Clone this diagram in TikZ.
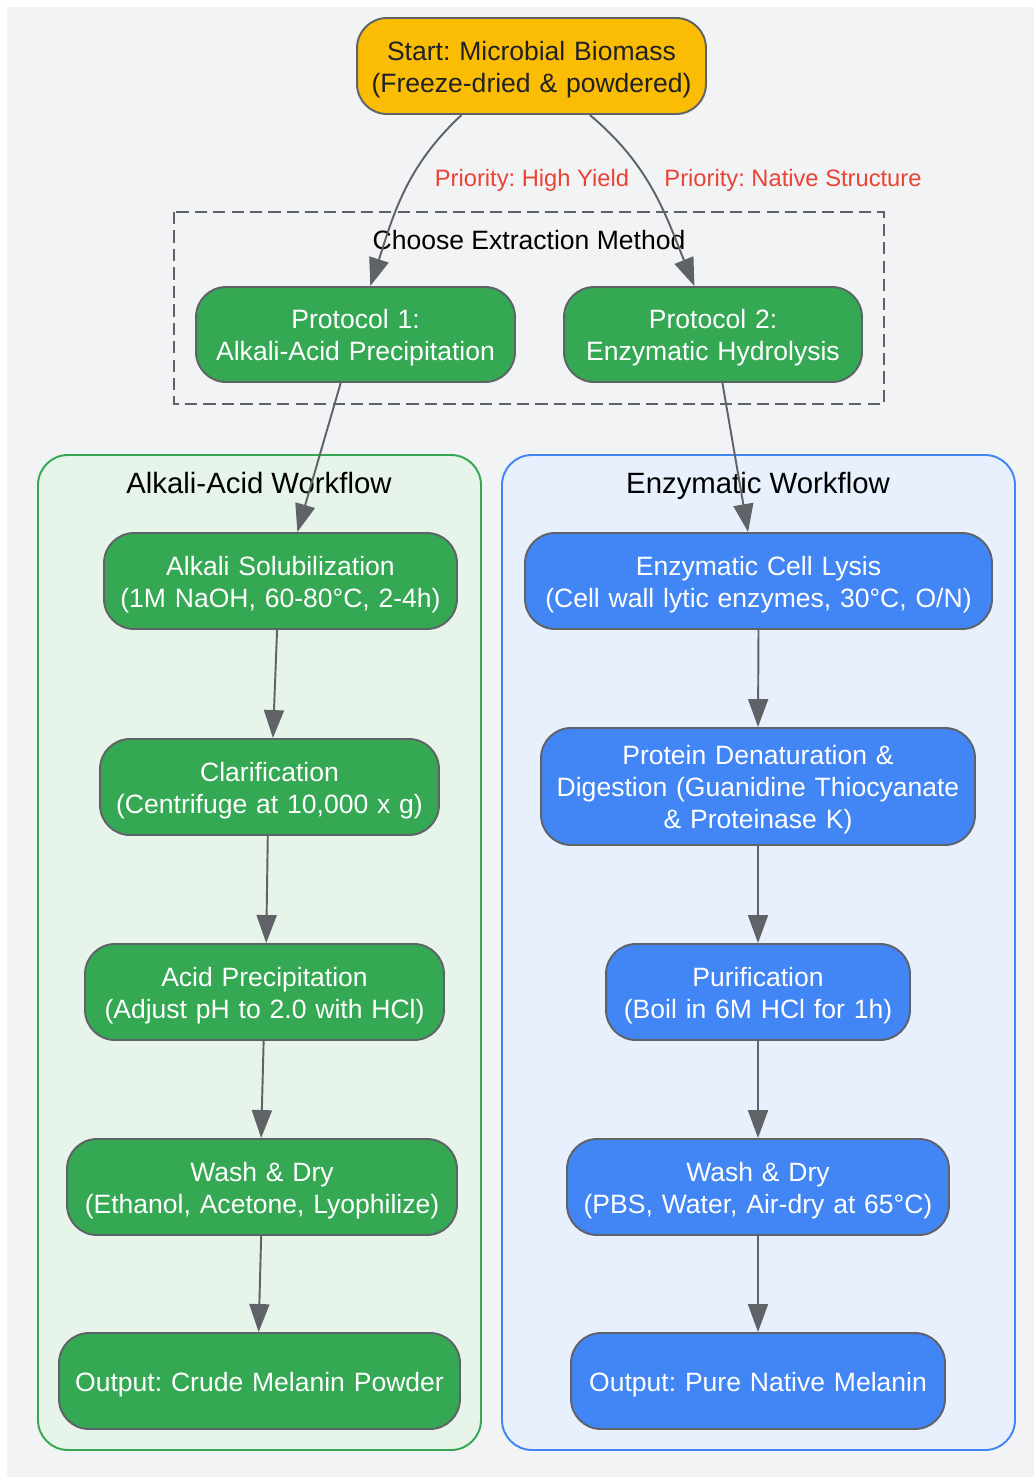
\documentclass[tikz,border=0pt]{standalone}
\usepackage{fontspec}
\setmainfont{Liberation Sans}
\frenchspacing
\usetikzlibrary{arrows.meta, positioning}
\definecolor{pagegray}{HTML}{F1F3F4}
\definecolor{edgegray}{HTML}{5F6368}
\definecolor{startyellow}{HTML}{FBBC04}
\definecolor{alkgreen}{HTML}{34A853}
\definecolor{enzblue}{HTML}{4285F4}
\definecolor{alkpale}{HTML}{E6F4EA}
\definecolor{enzpale}{HTML}{E8F0FE}
\definecolor{priored}{HTML}{EA4335}
\definecolor{inkdark}{HTML}{202124}

\tikzset{
  stepnode/.style={draw=edgegray, line width=1.1pt, rounded corners=0.6cm, minimum height=1.92cm,
    inner xsep=0pt, inner ysep=3pt, align=center, font=\fontsize{15.1}{18.2}\selectfont,
    execute at begin node={\rule{0pt}{15.6pt}}, execute at end node={\rule[-3.8pt]{0pt}{0pt}}},
  alkalibox/.style={stepnode, fill=alkgreen, text=white},
  enzbox/.style={stepnode, fill=enzblue, text=white},
  grouplabel/.style={font=\fontsize{15.1}{18.2}\selectfont, text=black, anchor=base},
  flowlabel/.style={font=\fontsize{16.7}{20}\selectfont, text=black, anchor=base},
  priolabel/.style={font=\fontsize{13.5}{16}\selectfont, text=priored, anchor=base},
  flow/.style={draw=edgegray, line width=1.1pt, -{Triangle[length=0.56cm,width=0.4cm]}}
}

\begin{document}
\begin{tikzpicture}[x=0.02cm, y=-0.02cm]
  \useasboundingbox (0,0) rectangle (1034,1477);
  \fill[pagegray] (7,7) rectangle (1034,1477);

  % Groups
  \draw[draw=alkgreen, fill=alkpale, line width=1.1pt, rounded corners=0.6cm] (38,455) rectangle (481,1450);
  \draw[draw=enzblue, fill=enzpale, line width=1.1pt, rounded corners=0.6cm] (502,455) rectangle (1015,1450);
  \draw[draw=edgegray, line width=1.1pt, dash pattern=on 7pt off 3.5pt] (174,212) rectangle (884,404);

  \node[grouplabel] (choose) at (529,249) {Choose Extraction Method};
  \node[flowlabel] (alklabel) at (259,493) {Alkali-Acid Workflow};
  \node[flowlabel] (enzlabel) at (758,493) {Enzymatic Workflow};

  % Start and protocols
  \node[stepnode, fill=startyellow, text=inkdark, text width=6.98cm] (start) at (531.5,66)
    {Start: Microbial Biomass\\(Freeze-dried \& powdered)};
  \node[alkalibox, text width=6.38cm, minimum height=1.9cm] (prot1) at (355.5,334.5)
    {Protocol 1:\\Alkali-Acid Precipitation};
  \node[alkalibox, text width=5.96cm, minimum height=1.9cm] (prot2) at (713,334.5)
    {Protocol 2:\\Enzymatic Hydrolysis};

  % Alkali-acid steps
  \node[alkalibox, text width=7.06cm] (alk1) at (280.5,581) {Alkali Solubilization\\(1M NaOH, 60-80°C, 2-4h)};
  \node[alkalibox, text width=6.78cm] (alk2) at (269.5,787) {Clarification\\(Centrifuge at 10,000 x g)};
  \node[alkalibox, text width=7.18cm] (alk3) at (264.5,992) {Acid Precipitation\\(Adjust pH to 2.0 with HCl)};
  \node[alkalibox, text width=7.80cm] (alk4) at (262,1187) {Wash \& Dry\\(Ethanol, Acetone, Lyophilize)};
  \node[alkalibox, text width=8.02cm] (alk5) at (259.5,1381) {Output: Crude Melanin Powder};

  % Enzymatic steps
  \node[enzbox, text width=9.34cm] (enz1) at (758.5,581) {Enzymatic Cell Lysis\\(Cell wall lytic enzymes, 30°C, O/N)};
  \node[enzbox, text width=8.68cm, minimum height=2.34cm] (enz2) at (758,786.5)
    {Protein Denaturation \&\\Digestion (Guanidine Thiocyanate\\\& Proteinase K)};
  \node[enzbox, text width=6.08cm] (enz3) at (758,992) {Purification\\(Boil in 6M HCl for 1h)};
  \node[enzbox, text width=7.64cm] (enz4) at (758,1187) {Wash \& Dry\\(PBS, Water, Air-dry at 65°C)};
  \node[enzbox, text width=7.48cm] (enz5) at (758,1381) {Output: Pure Native Melanin};

  % Priority labels
  \node[priolabel] (prio1) at (532,186) {Priority: High Yield};
  \node[priolabel] (prio2) at (793,186) {Priority: Native Structure};

  % Connectors
  \draw[flow] (start.215) to[out=223, in=72] (prot1.73);
  \draw[flow] (start.320) to[out=320, in=112] (prot2.111);
  \draw[flow] (prot1.253) -- (alk1.71);
  \draw[flow] (prot2.281) -- (enz1.102);
  \draw[flow] (alk1.266) -- (alk2.86);
  \draw[flow] (alk2.268) -- (alk3.88);
  \draw[flow] (alk3.269) -- (alk4.91);
  \draw[flow] (alk4.269) -- (alk5.91);
  \draw[flow] (enz1.south) -- (enz2.north);
  \draw[flow] (enz2.south) -- (enz3.north);
  \draw[flow] (enz3.south) -- (enz4.north);
  \draw[flow] (enz4.south) -- (enz5.north);
\end{tikzpicture}
\end{document}
